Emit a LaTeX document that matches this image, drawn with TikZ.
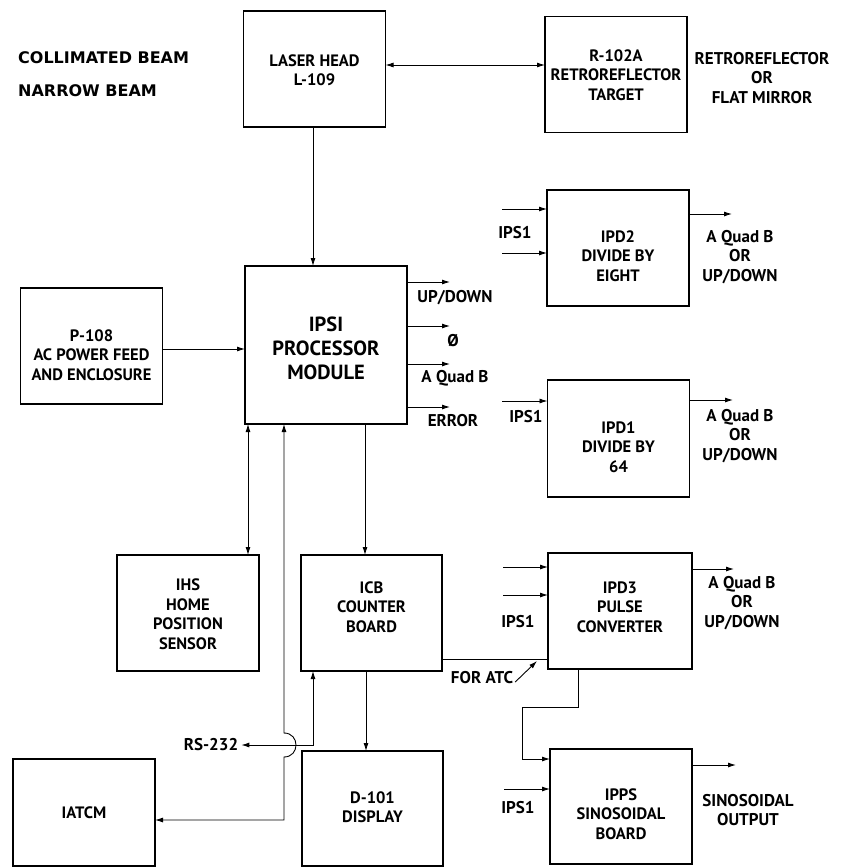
\documentclass[tikz,border=0pt]{standalone}
\usepackage{fontspec}
\setmainfont{PT Sans}
\newfontfamily\headfont{DejaVu Sans}
\usetikzlibrary{arrows.meta,calc}
\begin{document}
\begin{tikzpicture}[x=1pt,y=-1pt,
  >={Latex[length=8pt,width=5pt]},
  box/.style={draw,line width=1.6pt,inner sep=0pt,outer sep=0pt,
    minimum width=142pt,minimum height=116pt},
  btxt/.style={inner sep=0pt,align=center,font=\fontsize{16.5}{19.5}\selectfont\bfseries},
  lbl/.style={inner sep=0pt,align=center,font=\fontsize{17}{19.5}\selectfont\bfseries},
  head/.style={inner sep=0pt,anchor=west,font=\headfont\fontsize{16}{19}\selectfont\bfseries},
  conn/.style={line width=0.9pt}
]
\useasboundingbox (0,0) rectangle (843,868);

% boxes
\node[box] (laser) at (314.5,69) {};
\node[box] (retro) at (616,74.5) {};
\node[box] (p108) at (91.5,346) {};
\node[box,minimum width=162pt,minimum height=158pt] (ipsi) at (326,345) {};
\node[box] (ipd2) at (618,248) {};
\node[box,minimum height=117pt] (ipd1) at (618.5,438.5) {};
\node[box] (ihs) at (188,613) {};
\node[box,minimum width=141pt] (icb) at (371.5,613) {};
\node[box,minimum width=144pt] (ipd3) at (620,611) {};
\node[box,minimum width=141pt,minimum height=115pt] (d101) at (372.5,808.5) {};
\node[box,minimum height=107pt] (iatcm) at (84,812.5) {};
\node[box,minimum height=115pt] (ipps) at (621,806.5) {};

% box texts
\node[btxt] (lasert) at (314.5,70) {LASER HEAD\\L-109};
\node[btxt] (retrot) at (616,75) {R-102A\\RETROREFLECTOR\\TARGET};
\node[btxt] (p108t) at (91.5,355) {P-108\\AC POWER FEED\\AND ENCLOSURE};
\node[btxt,font=\fontsize{20.5}{24}\selectfont\bfseries] (ipsit) at (326,348) {IPSI\\PROCESSOR\\MODULE};
\node[btxt] (ipd2t) at (618,256) {IPD2\\DIVIDE BY\\EIGHT};
\node[btxt] (ipd1t) at (618.5,447) {IPD1\\DIVIDE BY\\64};
\node[btxt] (ihst) at (188,614) {IHS\\HOME\\POSITION\\SENSOR};
\node[btxt] (icbt) at (371.5,607) {ICB\\COUNTER\\BOARD};
\node[btxt] (ipd3t) at (620,607) {IPD3\\PULSE\\CONVERTER};
\node[btxt] (d101t) at (372.5,807) {D-101\\DISPLAY};
\node[btxt] (iatcmt) at (84,813) {IATCM};
\node[btxt] (ippst) at (621,814) {IPPS\\SINOSOIDAL\\BOARD};

% free labels
\node[head] (coll) at (18,58) {COLLIMATED BEAM};
\node[head] (narrow) at (18,91) {NARROW BEAM};
\node[lbl] (retrolbl) at (762,78) {RETROREFLECTOR\\OR\\FLAT MIRROR};
\node[lbl] (updown) at (455,298) {UP/DOWN};
\node[lbl] (phi) at (453,341) {Ø};
\node[lbl] (aquadb) at (455,378) {A Quad B};
\node[lbl] (error) at (453,421) {ERROR};
\node[lbl] (ips2) at (515,233) {IPS1};
\node[lbl] (out2) at (740,257) {A Quad B\\OR\\UP/DOWN};
\node[lbl] (ips1) at (526,417) {IPS1};
\node[lbl] (out1) at (740,436) {A Quad B\\OR\\UP/DOWN};
\node[lbl] (ips3) at (518,622) {IPS1};
\node[lbl] (out3) at (742,603) {A Quad B\\OR\\UP/DOWN};
\node[lbl] (ipsp) at (518,808) {IPS1};
\node[lbl] (outp) at (748,810) {SINOSOIDAL\\OUTPUT};
\node[lbl] (foratc) at (482,678) {FOR ATC};
\node[lbl] (rs232) at (211,745) {RS-232};

% free ends
\coordinate (o1) at (450,282);
\coordinate (o2) at (450,326);
\coordinate (o3) at (450,364);
\coordinate (o4) at (450,407);
\coordinate (i2a) at (502,209);
\coordinate (i2b) at (502,253);
\coordinate (e2) at (732,214);
\coordinate (i1) at (502,401);
\coordinate (e1) at (733,400);
\coordinate (i3a) at (503,567);
\coordinate (i3b) at (503,595);
\coordinate (e3) at (734,569);
\coordinate (ip) at (504,789);
\coordinate (ep) at (736,765);
\coordinate (atctip) at (537,661);
\coordinate (rsj) at (313,745);

% connectors
\draw[conn,<->] (laser.east |- 0,65) -- (retro.west |- 0,65);
\draw[conn,->] (laser.south -| 313,0) -- (ipsi.north -| 313,0);
\draw[conn,->] (p108.east |- 0,349) -- (ipsi.west |- 0,349);
\draw[conn,->] (ipsi.east |- o1) -- (o1);
\draw[conn,->] (ipsi.east |- o2) -- (o2);
\draw[conn,->] (ipsi.east |- o3) -- (o3);
\draw[conn,->] (ipsi.east |- o4) -- (o4);
\draw[conn,->] (i2a) -- (ipd2.west |- i2a);
\draw[conn,->] (i2b) -- (ipd2.west |- i2b);
\draw[conn,->] (ipd2.east |- e2) -- (e2);
\draw[conn,->] (i1) -- (ipd1.west |- i1);
\draw[conn,->] (ipd1.east |- e1) -- (e1);
\draw[conn,->] (i3a) -- (ipd3.west |- i3a);
\draw[conn,->] (i3b) -- (ipd3.west |- i3b);
\draw[conn,->] (ipd3.east |- e3) -- (e3);
\draw[conn,->] (ip) -- (ipps.west |- ip);
\draw[conn,->] (ipps.east |- ep) -- (ep);
\draw[conn,<->] (ipsi.south -| 248,0) -- (ihs.north -| 248,0);
\draw[conn,->] (ipsi.south -| 365,0) -- (icb.north -| 365,0);
\draw[conn,->] (icb.south -| 366,0) -- (d101.north -| 366,0);
\draw[conn,<->] (rs232.east) ++(3,0) -- (rsj) -- (icb.south -| rsj);
\draw[conn,<->] (ipsi.south -| 284,0) -- (284,733) .. controls (300,733) and (300,757) .. (284,757) -- (284,820) -- (iatcm.east |- 0,820);
\draw[conn] (icb.east |- 0,659) -- (ipd3.west |- 0,659);
\draw[conn,->] (foratc.east) ++(2,4) -- (atctip);
\draw[conn,->] (ipd3.south -| 578,0) -- (578,707) -- (522,707) -- (522,759) -- (ipps.west |- 0,759);
\end{tikzpicture}
\end{document}
